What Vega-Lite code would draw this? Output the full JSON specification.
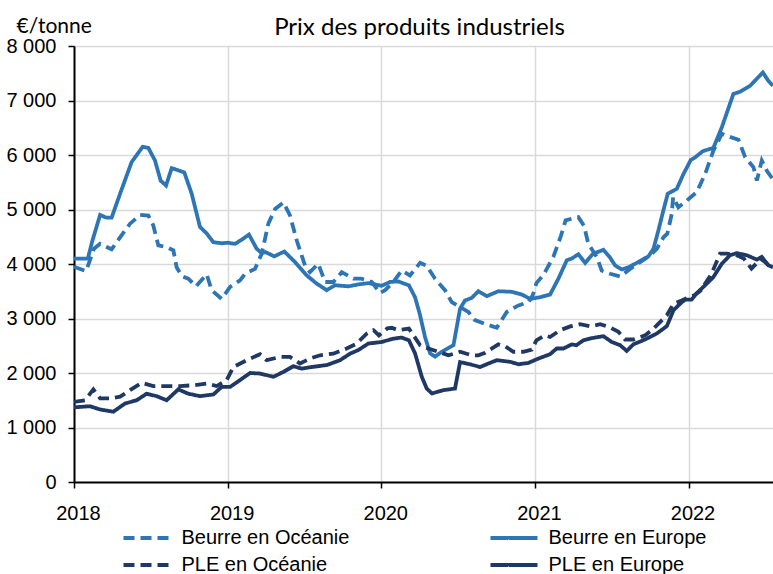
{
  "$schema": "https://vega.github.io/schema/vega-lite/v6.json",
  "autosize": {"type": "none"},
  "padding": {"left": 74, "top": 46, "right": 0, "bottom": 92},
  "width": 699,
  "height": 436,
  "title": {"text": "Prix des produits industriels", "font": "Lato", "fontSize": 24, "fontWeight": "normal", "color": "#000000", "anchor": "middle", "frame": "group", "baseline": "alphabetic", "offset": -44, "dx": -4},
  "config": {"view": {"stroke": null}},
  "data": {"values": [
    {"serie":"Beurre en Europe","annee":2018.000,"prix":4100},
    {"serie":"Beurre en Europe","annee":2018.090,"prix":4100},
    {"serie":"Beurre en Europe","annee":2018.120,"prix":4430},
    {"serie":"Beurre en Europe","annee":2018.170,"prix":4900},
    {"serie":"Beurre en Europe","annee":2018.210,"prix":4850},
    {"serie":"Beurre en Europe","annee":2018.245,"prix":4850},
    {"serie":"Beurre en Europe","annee":2018.300,"prix":5290},
    {"serie":"Beurre en Europe","annee":2018.375,"prix":5870},
    {"serie":"Beurre en Europe","annee":2018.447,"prix":6150},
    {"serie":"Beurre en Europe","annee":2018.484,"prix":6130},
    {"serie":"Beurre en Europe","annee":2018.527,"prix":5900},
    {"serie":"Beurre en Europe","annee":2018.564,"prix":5530},
    {"serie":"Beurre en Europe","annee":2018.599,"prix":5440},
    {"serie":"Beurre en Europe","annee":2018.636,"prix":5760},
    {"serie":"Beurre en Europe","annee":2018.718,"prix":5680},
    {"serie":"Beurre en Europe","annee":2018.766,"prix":5290},
    {"serie":"Beurre en Europe","annee":2018.820,"prix":4680},
    {"serie":"Beurre en Europe","annee":2018.864,"prix":4560},
    {"serie":"Beurre en Europe","annee":2018.907,"prix":4400},
    {"serie":"Beurre en Europe","annee":2018.961,"prix":4380},
    {"serie":"Beurre en Europe","annee":2019.000,"prix":4390},
    {"serie":"Beurre en Europe","annee":2019.048,"prix":4370},
    {"serie":"Beurre en Europe","annee":2019.092,"prix":4445},
    {"serie":"Beurre en Europe","annee":2019.139,"prix":4540},
    {"serie":"Beurre en Europe","annee":2019.189,"prix":4280},
    {"serie":"Beurre en Europe","annee":2019.222,"prix":4200},
    {"serie":"Beurre en Europe","annee":2019.245,"prix":4220},
    {"serie":"Beurre en Europe","annee":2019.304,"prix":4140},
    {"serie":"Beurre en Europe","annee":2019.369,"prix":4230},
    {"serie":"Beurre en Europe","annee":2019.439,"prix":4035},
    {"serie":"Beurre en Europe","annee":2019.515,"prix":3790},
    {"serie":"Beurre en Europe","annee":2019.580,"prix":3640},
    {"serie":"Beurre en Europe","annee":2019.645,"prix":3520},
    {"serie":"Beurre en Europe","annee":2019.700,"prix":3610},
    {"serie":"Beurre en Europe","annee":2019.786,"prix":3590},
    {"serie":"Beurre en Europe","annee":2019.850,"prix":3625},
    {"serie":"Beurre en Europe","annee":2019.916,"prix":3650},
    {"serie":"Beurre en Europe","annee":2020.003,"prix":3600},
    {"serie":"Beurre en Europe","annee":2020.057,"prix":3670},
    {"serie":"Beurre en Europe","annee":2020.110,"prix":3680},
    {"serie":"Beurre en Europe","annee":2020.180,"prix":3610},
    {"serie":"Beurre en Europe","annee":2020.220,"prix":3390},
    {"serie":"Beurre en Europe","annee":2020.250,"prix":3090},
    {"serie":"Beurre en Europe","annee":2020.285,"prix":2660},
    {"serie":"Beurre en Europe","annee":2020.318,"prix":2360},
    {"serie":"Beurre en Europe","annee":2020.350,"prix":2300},
    {"serie":"Beurre en Europe","annee":2020.394,"prix":2390},
    {"serie":"Beurre en Europe","annee":2020.470,"prix":2510},
    {"serie":"Beurre en Europe","annee":2020.513,"prix":3180},
    {"serie":"Beurre en Europe","annee":2020.545,"prix":3330},
    {"serie":"Beurre en Europe","annee":2020.590,"prix":3380},
    {"serie":"Beurre en Europe","annee":2020.632,"prix":3500},
    {"serie":"Beurre en Europe","annee":2020.687,"prix":3410},
    {"serie":"Beurre en Europe","annee":2020.762,"prix":3500},
    {"serie":"Beurre en Europe","annee":2020.850,"prix":3490},
    {"serie":"Beurre en Europe","annee":2020.915,"prix":3440},
    {"serie":"Beurre en Europe","annee":2020.969,"prix":3360},
    {"serie":"Beurre en Europe","annee":2021.034,"prix":3390},
    {"serie":"Beurre en Europe","annee":2021.099,"prix":3440},
    {"serie":"Beurre en Europe","annee":2021.153,"prix":3730},
    {"serie":"Beurre en Europe","annee":2021.208,"prix":4070},
    {"serie":"Beurre en Europe","annee":2021.240,"prix":4100},
    {"serie":"Beurre en Europe","annee":2021.283,"prix":4180},
    {"serie":"Beurre en Europe","annee":2021.327,"prix":4020},
    {"serie":"Beurre en Europe","annee":2021.380,"prix":4190},
    {"serie":"Beurre en Europe","annee":2021.446,"prix":4260},
    {"serie":"Beurre en Europe","annee":2021.490,"prix":4115},
    {"serie":"Beurre en Europe","annee":2021.522,"prix":3975},
    {"serie":"Beurre en Europe","annee":2021.566,"prix":3900},
    {"serie":"Beurre en Europe","annee":2021.609,"prix":3940},
    {"serie":"Beurre en Europe","annee":2021.663,"prix":4020},
    {"serie":"Beurre en Europe","annee":2021.739,"prix":4140},
    {"serie":"Beurre en Europe","annee":2021.772,"prix":4280},
    {"serie":"Beurre en Europe","annee":2021.804,"prix":4615},
    {"serie":"Beurre en Europe","annee":2021.837,"prix":4990},
    {"serie":"Beurre en Europe","annee":2021.865,"prix":5290},
    {"serie":"Beurre en Europe","annee":2021.924,"prix":5380},
    {"serie":"Beurre en Europe","annee":2021.967,"prix":5650},
    {"serie":"Beurre en Europe","annee":2022.015,"prix":5910},
    {"serie":"Beurre en Europe","annee":2022.040,"prix":5950},
    {"serie":"Beurre en Europe","annee":2022.093,"prix":6070},
    {"serie":"Beurre en Europe","annee":2022.162,"prix":6130},
    {"serie":"Beurre en Europe","annee":2022.217,"prix":6510},
    {"serie":"Beurre en Europe","annee":2022.292,"prix":7120},
    {"serie":"Beurre en Europe","annee":2022.336,"prix":7160},
    {"serie":"Beurre en Europe","annee":2022.401,"prix":7270},
    {"serie":"Beurre en Europe","annee":2022.484,"prix":7515},
    {"serie":"Beurre en Europe","annee":2022.520,"prix":7360},
    {"serie":"Beurre en Europe","annee":2022.550,"prix":7270},

    {"serie":"Beurre en Océanie","annee":2018.000,"prix":3950},
    {"serie":"Beurre en Océanie","annee":2018.078,"prix":3870},
    {"serie":"Beurre en Océanie","annee":2018.104,"prix":4070},
    {"serie":"Beurre en Océanie","annee":2018.130,"prix":4280},
    {"serie":"Beurre en Océanie","annee":2018.170,"prix":4370},
    {"serie":"Beurre en Océanie","annee":2018.245,"prix":4270},
    {"serie":"Beurre en Océanie","annee":2018.300,"prix":4490},
    {"serie":"Beurre en Océanie","annee":2018.365,"prix":4740},
    {"serie":"Beurre en Océanie","annee":2018.430,"prix":4900},
    {"serie":"Beurre en Océanie","annee":2018.484,"prix":4890},
    {"serie":"Beurre en Océanie","annee":2018.516,"prix":4710},
    {"serie":"Beurre en Océanie","annee":2018.549,"prix":4340},
    {"serie":"Beurre en Océanie","annee":2018.603,"prix":4310},
    {"serie":"Beurre en Océanie","annee":2018.647,"prix":4250},
    {"serie":"Beurre en Océanie","annee":2018.668,"prix":3940},
    {"serie":"Beurre en Océanie","annee":2018.701,"prix":3780},
    {"serie":"Beurre en Océanie","annee":2018.744,"prix":3730},
    {"serie":"Beurre en Océanie","annee":2018.794,"prix":3590},
    {"serie":"Beurre en Océanie","annee":2018.864,"prix":3810},
    {"serie":"Beurre en Océanie","annee":2018.896,"prix":3520},
    {"serie":"Beurre en Océanie","annee":2018.961,"prix":3360},
    {"serie":"Beurre en Océanie","annee":2019.016,"prix":3580},
    {"serie":"Beurre en Océanie","annee":2019.081,"prix":3700},
    {"serie":"Beurre en Océanie","annee":2019.113,"prix":3820},
    {"serie":"Beurre en Océanie","annee":2019.178,"prix":3910},
    {"serie":"Beurre en Océanie","annee":2019.222,"prix":4190},
    {"serie":"Beurre en Océanie","annee":2019.265,"prix":4740},
    {"serie":"Beurre en Océanie","annee":2019.309,"prix":5010},
    {"serie":"Beurre en Océanie","annee":2019.363,"prix":5130},
    {"serie":"Beurre en Océanie","annee":2019.406,"prix":4890},
    {"serie":"Beurre en Océanie","annee":2019.450,"prix":4430},
    {"serie":"Beurre en Océanie","annee":2019.504,"prix":3970},
    {"serie":"Beurre en Océanie","annee":2019.536,"prix":3850},
    {"serie":"Beurre en Océanie","annee":2019.590,"prix":4005},
    {"serie":"Beurre en Océanie","annee":2019.634,"prix":3670},
    {"serie":"Beurre en Océanie","annee":2019.688,"prix":3670},
    {"serie":"Beurre en Océanie","annee":2019.743,"prix":3850},
    {"serie":"Beurre en Océanie","annee":2019.819,"prix":3730},
    {"serie":"Beurre en Océanie","annee":2019.870,"prix":3730},
    {"serie":"Beurre en Océanie","annee":2019.938,"prix":3670},
    {"serie":"Beurre en Océanie","annee":2019.992,"prix":3470},
    {"serie":"Beurre en Océanie","annee":2020.025,"prix":3520},
    {"serie":"Beurre en Océanie","annee":2020.079,"prix":3670},
    {"serie":"Beurre en Océanie","annee":2020.133,"prix":3880},
    {"serie":"Beurre en Océanie","annee":2020.187,"prix":3790},
    {"serie":"Beurre en Océanie","annee":2020.253,"prix":4020},
    {"serie":"Beurre en Océanie","annee":2020.296,"prix":3970},
    {"serie":"Beurre en Océanie","annee":2020.350,"prix":3730},
    {"serie":"Beurre en Océanie","annee":2020.415,"prix":3520},
    {"serie":"Beurre en Océanie","annee":2020.459,"prix":3300},
    {"serie":"Beurre en Océanie","annee":2020.513,"prix":3210},
    {"serie":"Beurre en Océanie","annee":2020.567,"prix":3120},
    {"serie":"Beurre en Océanie","annee":2020.610,"prix":2970},
    {"serie":"Beurre en Océanie","annee":2020.676,"prix":2900},
    {"serie":"Beurre en Océanie","annee":2020.752,"prix":2830},
    {"serie":"Beurre en Océanie","annee":2020.817,"prix":3120},
    {"serie":"Beurre en Océanie","annee":2020.893,"prix":3240},
    {"serie":"Beurre en Océanie","annee":2020.958,"prix":3300},
    {"serie":"Beurre en Océanie","annee":2020.985,"prix":3420},
    {"serie":"Beurre en Océanie","annee":2021.010,"prix":3650},
    {"serie":"Beurre en Océanie","annee":2021.056,"prix":3800},
    {"serie":"Beurre en Océanie","annee":2021.120,"prix":4130},
    {"serie":"Beurre en Océanie","annee":2021.170,"prix":4520},
    {"serie":"Beurre en Océanie","annee":2021.200,"prix":4800},
    {"serie":"Beurre en Océanie","annee":2021.250,"prix":4840},
    {"serie":"Beurre en Océanie","annee":2021.283,"prix":4860},
    {"serie":"Beurre en Océanie","annee":2021.320,"prix":4700},
    {"serie":"Beurre en Océanie","annee":2021.348,"prix":4370},
    {"serie":"Beurre en Océanie","annee":2021.403,"prix":4130},
    {"serie":"Beurre en Océanie","annee":2021.435,"prix":3880},
    {"serie":"Beurre en Océanie","annee":2021.490,"prix":3820},
    {"serie":"Beurre en Océanie","annee":2021.555,"prix":3770},
    {"serie":"Beurre en Océanie","annee":2021.620,"prix":3910},
    {"serie":"Beurre en Océanie","annee":2021.685,"prix":4035},
    {"serie":"Beurre en Océanie","annee":2021.750,"prix":4160},
    {"serie":"Beurre en Océanie","annee":2021.794,"prix":4280},
    {"serie":"Beurre en Océanie","annee":2021.837,"prix":4490},
    {"serie":"Beurre en Océanie","annee":2021.862,"prix":4555},
    {"serie":"Beurre en Océanie","annee":2021.891,"prix":4920},
    {"serie":"Beurre en Océanie","annee":2021.900,"prix":5230},
    {"serie":"Beurre en Océanie","annee":2021.934,"prix":5040},
    {"serie":"Beurre en Océanie","annee":2021.989,"prix":5165},
    {"serie":"Beurre en Océanie","annee":2022.054,"prix":5320},
    {"serie":"Beurre en Océanie","annee":2022.108,"prix":5650},
    {"serie":"Beurre en Océanie","annee":2022.162,"prix":6080},
    {"serie":"Beurre en Océanie","annee":2022.217,"prix":6390},
    {"serie":"Beurre en Océanie","annee":2022.260,"prix":6340},
    {"serie":"Beurre en Océanie","annee":2022.325,"prix":6280},
    {"serie":"Beurre en Océanie","annee":2022.369,"prix":5960},
    {"serie":"Beurre en Océanie","annee":2022.423,"prix":5775},
    {"serie":"Beurre en Océanie","annee":2022.445,"prix":5530},
    {"serie":"Beurre en Océanie","annee":2022.477,"prix":5900},
    {"serie":"Beurre en Océanie","annee":2022.510,"prix":5710},
    {"serie":"Beurre en Océanie","annee":2022.550,"prix":5550},

    {"serie":"PLE en Europe","annee":2018.000,"prix":1370},
    {"serie":"PLE en Europe","annee":2018.104,"prix":1390},
    {"serie":"PLE en Europe","annee":2018.170,"prix":1330},
    {"serie":"PLE en Europe","annee":2018.256,"prix":1290},
    {"serie":"PLE en Europe","annee":2018.332,"prix":1440},
    {"serie":"PLE en Europe","annee":2018.408,"prix":1500},
    {"serie":"PLE en Europe","annee":2018.473,"prix":1620},
    {"serie":"PLE en Europe","annee":2018.538,"prix":1575},
    {"serie":"PLE en Europe","annee":2018.603,"prix":1500},
    {"serie":"PLE en Europe","annee":2018.679,"prix":1700},
    {"serie":"PLE en Europe","annee":2018.744,"prix":1620},
    {"serie":"PLE en Europe","annee":2018.820,"prix":1575},
    {"serie":"PLE en Europe","annee":2018.907,"prix":1605},
    {"serie":"PLE en Europe","annee":2018.961,"prix":1745},
    {"serie":"PLE en Europe","annee":2019.016,"prix":1745},
    {"serie":"PLE en Europe","annee":2019.081,"prix":1870},
    {"serie":"PLE en Europe","annee":2019.146,"prix":2000},
    {"serie":"PLE en Europe","annee":2019.211,"prix":1990},
    {"serie":"PLE en Europe","annee":2019.298,"prix":1930},
    {"serie":"PLE en Europe","annee":2019.363,"prix":2020},
    {"serie":"PLE en Europe","annee":2019.428,"prix":2125},
    {"serie":"PLE en Europe","annee":2019.482,"prix":2080},
    {"serie":"PLE en Europe","annee":2019.547,"prix":2110},
    {"serie":"PLE en Europe","annee":2019.645,"prix":2145},
    {"serie":"PLE en Europe","annee":2019.732,"prix":2235},
    {"serie":"PLE en Europe","annee":2019.797,"prix":2355},
    {"serie":"PLE en Europe","annee":2019.850,"prix":2420},
    {"serie":"PLE en Europe","annee":2019.916,"prix":2540},
    {"serie":"PLE en Europe","annee":2020.003,"prix":2570},
    {"serie":"PLE en Europe","annee":2020.079,"prix":2630},
    {"serie":"PLE en Europe","annee":2020.133,"prix":2650},
    {"serie":"PLE en Europe","annee":2020.180,"prix":2600},
    {"serie":"PLE en Europe","annee":2020.220,"prix":2360},
    {"serie":"PLE en Europe","annee":2020.264,"prix":1930},
    {"serie":"PLE en Europe","annee":2020.296,"prix":1715},
    {"serie":"PLE en Europe","annee":2020.330,"prix":1625},
    {"serie":"PLE en Europe","annee":2020.404,"prix":1685},
    {"serie":"PLE en Europe","annee":2020.480,"prix":1715},
    {"serie":"PLE en Europe","annee":2020.513,"prix":2200},
    {"serie":"PLE en Europe","annee":2020.578,"prix":2160},
    {"serie":"PLE en Europe","annee":2020.643,"prix":2110},
    {"serie":"PLE en Europe","annee":2020.708,"prix":2185},
    {"serie":"PLE en Europe","annee":2020.752,"prix":2235},
    {"serie":"PLE en Europe","annee":2020.840,"prix":2205},
    {"serie":"PLE en Europe","annee":2020.893,"prix":2160},
    {"serie":"PLE en Europe","annee":2020.958,"prix":2185},
    {"serie":"PLE en Europe","annee":2021.023,"prix":2265},
    {"serie":"PLE en Europe","annee":2021.099,"prix":2345},
    {"serie":"PLE en Europe","annee":2021.142,"prix":2450},
    {"serie":"PLE en Europe","annee":2021.186,"prix":2450},
    {"serie":"PLE en Europe","annee":2021.240,"prix":2525},
    {"serie":"PLE en Europe","annee":2021.270,"prix":2510},
    {"serie":"PLE en Europe","annee":2021.316,"prix":2600},
    {"serie":"PLE en Europe","annee":2021.380,"prix":2645},
    {"serie":"PLE en Europe","annee":2021.446,"prix":2675},
    {"serie":"PLE en Europe","annee":2021.500,"prix":2570},
    {"serie":"PLE en Europe","annee":2021.555,"prix":2510},
    {"serie":"PLE en Europe","annee":2021.598,"prix":2405},
    {"serie":"PLE en Europe","annee":2021.641,"prix":2525},
    {"serie":"PLE en Europe","annee":2021.717,"prix":2615},
    {"serie":"PLE en Europe","annee":2021.794,"prix":2725},
    {"serie":"PLE en Europe","annee":2021.859,"prix":2860},
    {"serie":"PLE en Europe","annee":2021.902,"prix":3150},
    {"serie":"PLE en Europe","annee":2021.956,"prix":3300},
    {"serie":"PLE en Europe","annee":2021.980,"prix":3345},
    {"serie":"PLE en Europe","annee":2022.020,"prix":3345},
    {"serie":"PLE en Europe","annee":2022.050,"prix":3455},
    {"serie":"PLE en Europe","annee":2022.119,"prix":3640},
    {"serie":"PLE en Europe","annee":2022.162,"prix":3760},
    {"serie":"PLE en Europe","annee":2022.217,"prix":4005},
    {"serie":"PLE en Europe","annee":2022.270,"prix":4160},
    {"serie":"PLE en Europe","annee":2022.314,"prix":4200},
    {"serie":"PLE en Europe","annee":2022.380,"prix":4160},
    {"serie":"PLE en Europe","annee":2022.445,"prix":4080},
    {"serie":"PLE en Europe","annee":2022.477,"prix":4130},
    {"serie":"PLE en Europe","annee":2022.520,"prix":3975},
    {"serie":"PLE en Europe","annee":2022.550,"prix":3940},

    {"serie":"PLE en Océanie","annee":2018.000,"prix":1470},
    {"serie":"PLE en Océanie","annee":2018.072,"prix":1500},
    {"serie":"PLE en Océanie","annee":2018.126,"prix":1700},
    {"serie":"PLE en Océanie","annee":2018.170,"prix":1535},
    {"serie":"PLE en Océanie","annee":2018.234,"prix":1535},
    {"serie":"PLE en Océanie","annee":2018.300,"prix":1565},
    {"serie":"PLE en Océanie","annee":2018.365,"prix":1685},
    {"serie":"PLE en Océanie","annee":2018.440,"prix":1820},
    {"serie":"PLE en Océanie","annee":2018.516,"prix":1760},
    {"serie":"PLE en Océanie","annee":2018.603,"prix":1760},
    {"serie":"PLE en Océanie","annee":2018.690,"prix":1760},
    {"serie":"PLE en Océanie","annee":2018.777,"prix":1775},
    {"serie":"PLE en Océanie","annee":2018.864,"prix":1805},
    {"serie":"PLE en Océanie","annee":2018.929,"prix":1760},
    {"serie":"PLE en Océanie","annee":2018.994,"prix":1870},
    {"serie":"PLE en Océanie","annee":2019.037,"prix":2110},
    {"serie":"PLE en Océanie","annee":2019.124,"prix":2235},
    {"serie":"PLE en Océanie","annee":2019.211,"prix":2345},
    {"serie":"PLE en Océanie","annee":2019.254,"prix":2235},
    {"serie":"PLE en Océanie","annee":2019.341,"prix":2295},
    {"serie":"PLE en Océanie","annee":2019.406,"prix":2295},
    {"serie":"PLE en Océanie","annee":2019.471,"prix":2175},
    {"serie":"PLE en Océanie","annee":2019.536,"prix":2265},
    {"serie":"PLE en Océanie","annee":2019.602,"prix":2325},
    {"serie":"PLE en Océanie","annee":2019.688,"prix":2355},
    {"serie":"PLE en Océanie","annee":2019.775,"prix":2450},
    {"serie":"PLE en Océanie","annee":2019.840,"prix":2540},
    {"serie":"PLE en Océanie","annee":2019.905,"prix":2720},
    {"serie":"PLE en Océanie","annee":2019.950,"prix":2785},
    {"serie":"PLE en Océanie","annee":2019.985,"prix":2690},
    {"serie":"PLE en Océanie","annee":2020.040,"prix":2820},
    {"serie":"PLE en Océanie","annee":2020.068,"prix":2830},
    {"serie":"PLE en Océanie","annee":2020.110,"prix":2785},
    {"serie":"PLE en Océanie","annee":2020.180,"prix":2815},
    {"serie":"PLE en Océanie","annee":2020.210,"prix":2690},
    {"serie":"PLE en Océanie","annee":2020.253,"prix":2510},
    {"serie":"PLE en Océanie","annee":2020.307,"prix":2450},
    {"serie":"PLE en Océanie","annee":2020.372,"prix":2390},
    {"serie":"PLE en Océanie","annee":2020.437,"prix":2325},
    {"serie":"PLE en Océanie","annee":2020.513,"prix":2390},
    {"serie":"PLE en Océanie","annee":2020.590,"prix":2325},
    {"serie":"PLE en Océanie","annee":2020.632,"prix":2325},
    {"serie":"PLE en Océanie","annee":2020.676,"prix":2370},
    {"serie":"PLE en Océanie","annee":2020.708,"prix":2430},
    {"serie":"PLE en Océanie","annee":2020.762,"prix":2525},
    {"serie":"PLE en Océanie","annee":2020.806,"prix":2490},
    {"serie":"PLE en Océanie","annee":2020.860,"prix":2390},
    {"serie":"PLE en Océanie","annee":2020.925,"prix":2390},
    {"serie":"PLE en Océanie","annee":2020.980,"prix":2430},
    {"serie":"PLE en Océanie","annee":2021.010,"prix":2600},
    {"serie":"PLE en Océanie","annee":2021.066,"prix":2690},
    {"serie":"PLE en Océanie","annee":2021.099,"prix":2660},
    {"serie":"PLE en Océanie","annee":2021.164,"prix":2785},
    {"serie":"PLE en Océanie","annee":2021.230,"prix":2855},
    {"serie":"PLE en Océanie","annee":2021.294,"prix":2895},
    {"serie":"PLE en Océanie","annee":2021.360,"prix":2855},
    {"serie":"PLE en Océanie","annee":2021.425,"prix":2895},
    {"serie":"PLE en Océanie","annee":2021.490,"prix":2835},
    {"serie":"PLE en Océanie","annee":2021.544,"prix":2755},
    {"serie":"PLE en Océanie","annee":2021.587,"prix":2615},
    {"serie":"PLE en Océanie","annee":2021.641,"prix":2615},
    {"serie":"PLE en Océanie","annee":2021.717,"prix":2690},
    {"serie":"PLE en Océanie","annee":2021.772,"prix":2815},
    {"serie":"PLE en Océanie","annee":2021.826,"prix":2965},
    {"serie":"PLE en Océanie","annee":2021.859,"prix":3060},
    {"serie":"PLE en Océanie","annee":2021.902,"prix":3270},
    {"serie":"PLE en Océanie","annee":2021.956,"prix":3330},
    {"serie":"PLE en Océanie","annee":2022.010,"prix":3405},
    {"serie":"PLE en Océanie","annee":2022.040,"prix":3425},
    {"serie":"PLE en Océanie","annee":2022.080,"prix":3516},
    {"serie":"PLE en Océanie","annee":2022.150,"prix":3820},
    {"serie":"PLE en Océanie","annee":2022.173,"prix":3975},
    {"serie":"PLE en Océanie","annee":2022.205,"prix":4190},
    {"serie":"PLE en Océanie","annee":2022.250,"prix":4190},
    {"serie":"PLE en Océanie","annee":2022.314,"prix":4160},
    {"serie":"PLE en Océanie","annee":2022.360,"prix":4100},
    {"serie":"PLE en Océanie","annee":2022.410,"prix":3915},
    {"serie":"PLE en Océanie","annee":2022.440,"prix":4005},
    {"serie":"PLE en Océanie","annee":2022.466,"prix":4100},
    {"serie":"PLE en Océanie","annee":2022.500,"prix":4035},
    {"serie":"PLE en Océanie","annee":2022.530,"prix":3945}
  ]},
  "mark": {"type": "line", "strokeWidth": 3.8, "clip": true},
  "encoding": {
    "x": {
      "field": "annee", "type": "quantitative",
      "scale": {"domain": [2018, 2022.55], "nice": false, "zero": false},
      "axis": {
        "title": null, "values": [2018, 2019, 2020, 2021, 2022], "format": "d",
        "domainColor": "#000000", "domainWidth": 2,
        "tickColor": "#000000", "tickWidth": 1.5, "tickSize": 6,
        "grid": true, "gridColor": "#D9D9D9", "gridWidth": 1.5,
        "labelFont": "Liberation Sans", "labelFontSize": 20, "labelColor": "#000000",
        "labelPadding": 15, "labelOffset": 4, "labelFlush": false, "labelOverlap": false
      }
    },
    "y": {
      "field": "prix", "type": "quantitative",
      "scale": {"domain": [0, 8000], "nice": false},
      "axis": {
        "title": "€/tonne", "titleAngle": 0, "titleX": -58, "titleY": -14, "titleAlign": "left", "titleBaseline": "alphabetic",
        "titleFont": "Lato", "titleFontSize": 21, "titleFontWeight": "normal", "titleColor": "#000000",
        "values": [0, 1000, 2000, 3000, 4000, 5000, 6000, 7000, 8000],
        "labelExpr": "replace(format(datum.value, ','), ',', ' ')",
        "domainColor": "#000000", "domainWidth": 2,
        "tickColor": "#000000", "tickWidth": 1.5, "tickSize": 6,
        "grid": true, "gridColor": "#D9D9D9", "gridWidth": 1.5,
        "labelFont": "Liberation Sans", "labelFontSize": 20, "labelColor": "#000000",
        "labelPadding": 12
      }
    },
    "color": {
      "field": "serie", "type": "nominal",
      "scale": {"domain": ["Beurre en Océanie", "Beurre en Europe", "PLE en Océanie", "PLE en Europe"], "range": ["#2E75B6", "#2E75B6", "#1F3864", "#1F3864"]},
      "legend": {
        "title": null, "orient": "none", "legendX": 61, "legendY": 480, "columns": 2,
        "direction": "horizontal",
        "symbolType": "M-2.35,0H2.35", "symbolSize": 400, "symbolStrokeWidth": 4,
        "labelFont": "Liberation Sans", "labelFontSize": 20, "labelColor": "#000000", "labelLimit": 0,
        "labelOffset": 22.5, "columnPadding": 132, "rowPadding": 5, "padding": 0
      }
    },
    "strokeDash": {
      "field": "serie", "type": "nominal",
      "scale": {"domain": ["Beurre en Océanie", "Beurre en Europe", "PLE en Océanie", "PLE en Europe"], "range": [[11, 6], [1, 0], [11, 6], [1, 0]]},
      "legend": {
        "title": null, "orient": "none", "legendX": 61, "legendY": 480, "columns": 2,
        "direction": "horizontal",
        "symbolType": "M-2.35,0H2.35", "symbolSize": 400, "symbolStrokeWidth": 4,
        "labelFont": "Liberation Sans", "labelFontSize": 20, "labelColor": "#000000", "labelLimit": 0,
        "labelOffset": 22.5, "columnPadding": 132, "rowPadding": 5, "padding": 0
      }
    }
  }
}
